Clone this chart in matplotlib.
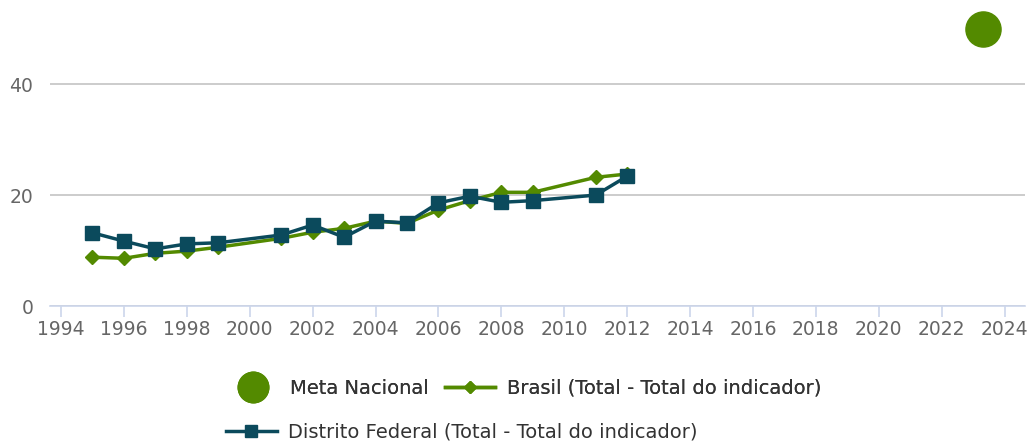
import matplotlib
matplotlib.use("Agg")
import matplotlib.pyplot as plt
from matplotlib.lines import Line2D

# ── Data ──────────────────────────────────────────────────────────────────────
years = [1995, 1996, 1997, 1998, 1999, 2001, 2002, 2003, 2004, 2005, 2006,
         2007, 2008, 2009, 2011, 2012]
brasil = [8.8, 8.6, 9.5, 9.9, 10.6, 12.2, 13.3, 14.0, 15.3, 14.9, 17.3,
          19.0, 20.5, 20.5, 23.2, 23.8]
distrito_federal = [13.2, 11.7, 10.3, 11.2, 11.4, 12.8, 14.6, 12.4, 15.3,
                    15.0, 18.6, 19.8, 18.7, 19.0, 20.0, 23.4]
meta_year = [2023.3]
meta_value = [50]

labels = ["Meta Nacional",
          "Brasil (Total - Total do indicador)",
          "Distrito Federal (Total - Total do indicador)"]
x_ticks = list(range(1994, 2025, 2))
y_ticks = [0, 20, 40]

GREEN = "#538A00"
TEAL = "#0B4A5C"
TEXT = "#666666"

# ── Figure ────────────────────────────────────────────────────────────────────
fig = plt.figure(figsize=(10.33, 4.41), dpi=100)
ax = fig.add_axes([50 / 1033, 1 - 306 / 441, 975 / 1033, 305 / 441])

ax.plot(years, brasil, color=GREEN, lw=2.5, marker="D", ms=7, zorder=3)
ax.plot(years, distrito_federal, color=TEAL, lw=2.5, marker="s", ms=10,
        zorder=4)
ax.scatter(meta_year, meta_value, s=640, color=GREEN, zorder=5)

ax.set_xlim(1993.65, 2024.65)
ax.set_ylim(0, 55)
ax.set_xticks(x_ticks)
ax.set_yticks(y_ticks)

for s in ("top", "right", "left"):
    ax.spines[s].set_visible(False)
ax.spines["bottom"].set_color("#ccd6eb")
ax.spines["bottom"].set_linewidth(1.2)

ax.grid(axis="y", color="#c4c4c4", lw=1.2)
ax.set_axisbelow(True)
ax.tick_params(axis="x", colors="#ccd6eb", length=8, width=1.2,
               labelcolor=TEXT, labelsize=13.5, pad=2)
ax.tick_params(axis="y", length=0, labelcolor=TEXT, labelsize=13.5, pad=12)

# ── Legend ────────────────────────────────────────────────────────────────────
h_meta = Line2D([], [], ls="none", marker="o", ms=22, color=GREEN)
h_br = Line2D([], [], color=GREEN, lw=2.5, marker="D", ms=6)
h_df = Line2D([], [], color=TEAL, lw=2.5, marker="s", ms=9)

leg1 = fig.legend([h_meta, h_br], labels[:2], loc="center left",
                  bbox_to_anchor=(228 / 1033, 1 - 388 / 441), ncol=2,
                  frameon=False, fontsize=14, labelcolor="#333333",
                  handlelength=2.6, handletextpad=0.6, columnspacing=0.8,
                  borderaxespad=0, borderpad=0)
fig.add_artist(leg1)
fig.legend([h_df], labels[2:], loc="center left",
           bbox_to_anchor=(226 / 1033, 1 - 432 / 441), frameon=False,
           fontsize=14, labelcolor="#333333", handlelength=2.6,
           handletextpad=0.6, borderaxespad=0, borderpad=0)

fig.savefig("out.png", dpi=100)
